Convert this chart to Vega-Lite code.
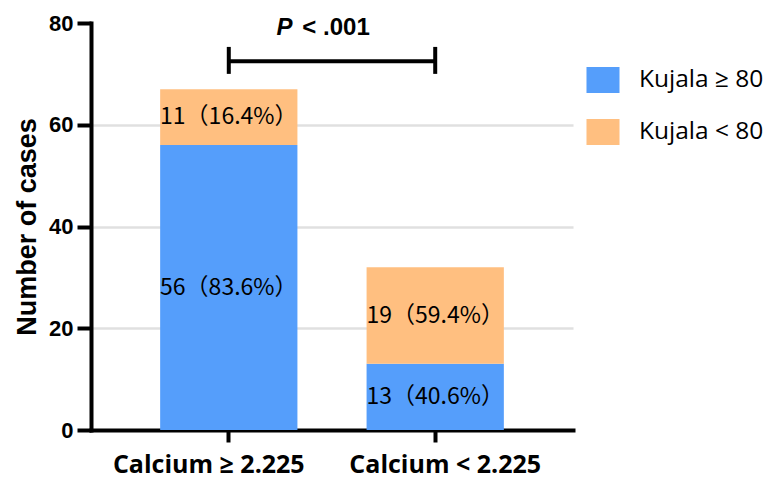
{
  "$schema": "https://vega.github.io/schema/vega-lite/v6.json",
  "width": 482,
  "height": 407,
  "autosize": "none",
  "padding": {"left": 91, "top": 23, "right": 196, "bottom": 52},
  "background": "white",
  "config": {"view": {"stroke": null}},
  "datasets": {
    "bars": [
      {"group": "Calcium ≥ 2.225", "kujala": "Kujala ≥ 80", "rank": 1, "cases": 56, "label": "56（83.6%）"},
      {"group": "Calcium ≥ 2.225", "kujala": "Kujala < 80", "rank": 2, "cases": 11, "label": "11（16.4%）"},
      {"group": "Calcium < 2.225", "kujala": "Kujala ≥ 80", "rank": 1, "cases": 13, "label": "13（40.6%）"},
      {"group": "Calcium < 2.225", "kujala": "Kujala < 80", "rank": 2, "cases": 19, "label": "19（59.4%）"}
    ],
    "bracket": [{"group": "Calcium ≥ 2.225", "to": "Calcium < 2.225", "level": 72.5}],
    "caps": [
      {"group": "Calcium ≥ 2.225", "lo": 70, "hi": 75.3},
      {"group": "Calcium < 2.225", "lo": 70, "hi": 75.3}
    ],
    "ptext": [{"group": "Calcium ≥ 2.225", "level": 77.6, "p": "P", "rest": "< .001"}]
  },
  "encoding": {
    "x": {
      "field": "group",
      "type": "nominal",
      "sort": null,
      "scale": {"domain": ["Calcium ≥ 2.225", "Calcium < 2.225"], "paddingInner": 0.335, "paddingOuter": 0.335},
      "axis": {
        "title": null,
        "labelAngle": 0,
        "labelLimit": 400,
        "labelOverlap": false,
        "domainColor": "black",
        "domainWidth": 4,
        "domainCap": "square",
        "tickColor": "black",
        "tickWidth": 4,
        "tickSize": 12,
        "labelFont": "Open Sans",
        "labelFontWeight": "bold",
        "labelFontSize": 25,
        "labelColor": "black",
        "labelPadding": 10,
        "labelOffset": {"condition": {"test": "datum.value === 'Calcium ≥ 2.225'", "value": -20}, "value": 10},
        "grid": false
      }
    }
  },
  "layer": [
    {
      "data": {"name": "bars"},
      "transform": [
        {"stack": "cases", "groupby": ["group"], "sort": [{"field": "rank", "order": "ascending"}], "as": ["y0", "y1"]}
      ],
      "mark": {"type": "bar"},
      "encoding": {
        "y": {
          "field": "y0",
          "type": "quantitative",
          "scale": {"domain": [0, 80], "nice": false},
          "axis": {
            "values": [0, 20, 40, 60, 80],
            "title": "Number of cases",
            "titleFont": "Liberation Sans",
            "titleFontSize": 27,
            "titleFontWeight": "bold",
            "titleColor": "black",
            "titlePadding": 7,
            "labelFont": "Liberation Sans",
            "labelFontSize": 22,
            "labelFontWeight": "bold",
            "labelColor": "black",
            "labelPadding": 4,
            "domainColor": "black",
            "domainWidth": 4,
            "domainCap": "square",
            "tickColor": "black",
            "tickWidth": 4,
            "tickSize": 14,
            "grid": true,
            "gridWidth": 2.5,
            "gridColor": {"condition": {"test": "datum.value === 0 || datum.value === 80", "value": "transparent"}, "value": "#e0e0e0"}
          }
        },
        "y2": {"field": "y1"},
        "color": {
          "field": "kujala",
          "type": "nominal",
          "scale": {"domain": ["Kujala ≥ 80", "Kujala < 80"], "range": ["#559EFB", "#FFBF80"]},
          "legend": {
            "title": null,
            "orient": "none",
            "legendX": 499,
            "legendY": 44,
            "symbolType": "M-1.27,-1H1.27V1H-1.27Z",
            "symbolSize": 676,
            "symbolStrokeWidth": 0,
            "labelFont": "Open Sans",
            "labelFontSize": 24.5,
            "labelColor": "black",
            "labelOffset": 23,
            "labelLimit": 300,
            "rowPadding": 26
          }
        }
      }
    },
    {
      "data": {"name": "bars"},
      "transform": [
        {"stack": "cases", "groupby": ["group"], "sort": [{"field": "rank", "order": "ascending"}], "as": ["y0", "y1"]},
        {"calculate": "(datum.y0 + datum.y1) / 2", "as": "ymid"}
      ],
      "mark": {"type": "text", "font": "Noto Sans CJK SC", "fontSize": 23, "color": "black", "align": "center", "baseline": "middle"},
      "encoding": {
        "y": {"field": "ymid", "type": "quantitative"},
        "text": {"field": "label"}
      }
    },
    {
      "data": {"name": "bracket"},
      "mark": {"type": "rule", "color": "black", "strokeWidth": 4},
      "encoding": {
        "x2": {"field": "to"},
        "y": {"field": "level", "type": "quantitative"}
      }
    },
    {
      "data": {"name": "caps"},
      "mark": {"type": "rule", "color": "black", "strokeWidth": 4},
      "encoding": {
        "y": {"field": "lo", "type": "quantitative"},
        "y2": {"field": "hi"}
      }
    },
    {
      "data": {"name": "ptext"},
      "mark": {"type": "text", "font": "Liberation Sans", "fontSize": 24, "fontWeight": "bold", "fontStyle": "italic", "color": "black", "align": "right", "baseline": "alphabetic"},
      "encoding": {
        "x": {"field": "group", "type": "nominal", "bandPosition": 0.964},
        "y": {"field": "level", "type": "quantitative"},
        "text": {"field": "p"}
      }
    },
    {
      "data": {"name": "ptext"},
      "mark": {"type": "text", "font": "Liberation Sans", "fontSize": 24, "fontWeight": "bold", "color": "black", "align": "left", "baseline": "alphabetic"},
      "encoding": {
        "x": {"field": "group", "type": "nominal", "bandPosition": 1.036},
        "y": {"field": "level", "type": "quantitative"},
        "text": {"field": "rest"}
      }
    }
  ]
}
